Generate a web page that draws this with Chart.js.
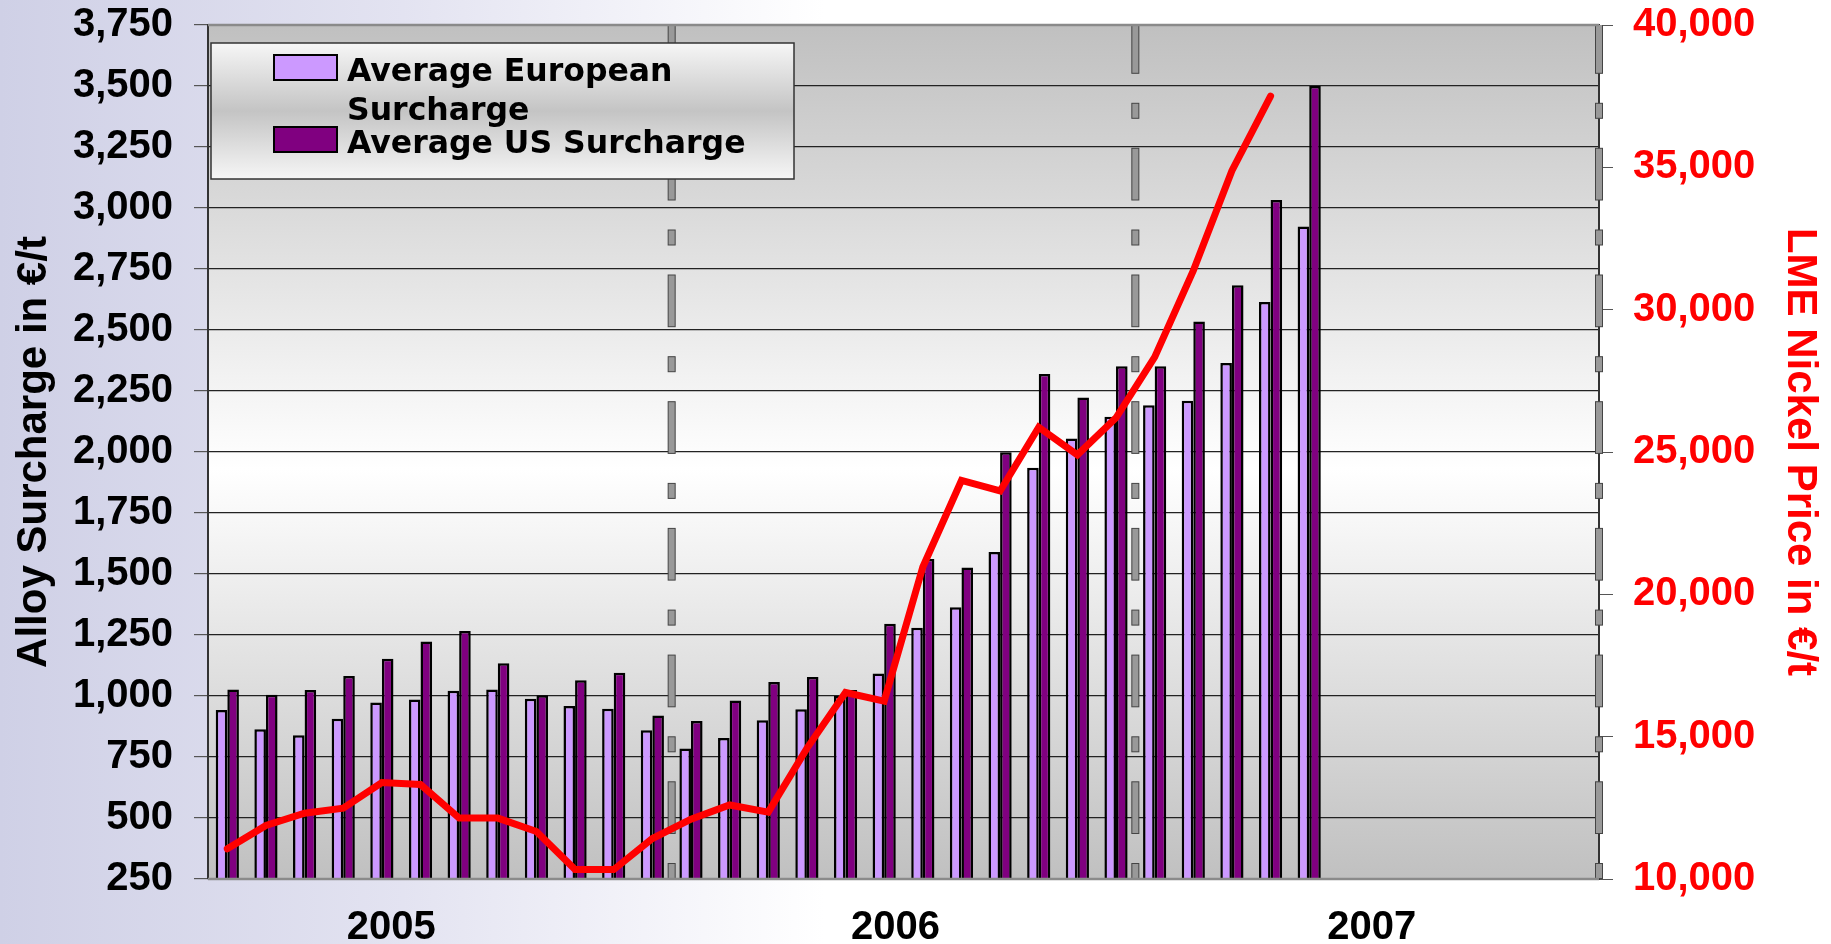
<!DOCTYPE html>
<html><head><meta charset="utf-8">
<script src="https://cdn.jsdelivr.net/npm/chart.js@4.4.1/dist/chart.umd.min.js"></script>
<style>
html,body{margin:0;padding:0;width:1831px;height:944px;overflow:hidden;
  background:linear-gradient(to right,#cfd0e6 0%,#e3e3f1 22%,#ffffff 45%);}
canvas{display:block;}
</style></head><body>
<canvas id="c" width="1831" height="944"></canvas>
<script>
// ---- data ----
const months = ['Jan 05','Feb 05','Mar 05','Apr 05','May 05','Jun 05','Jul 05','Aug 05','Sep 05','Oct 05','Nov 05','Dec 05',
                'Jan 06','Feb 06','Mar 06','Apr 06','May 06','Jun 06','Jul 06','Aug 06','Sep 06','Oct 06','Nov 06','Dec 06',
                'Jan 07','Feb 07','Mar 07','Apr 07','May 07','Jun 07','Jul 07','Aug 07','Sep 07','Oct 07','Nov 07','Dec 07'];
const yearLabels = ['2005','2006','2007'];
const yearLabelPos = [4.24, 17.29, 29.62];      // category index where each year label is centred
const yearBoundaries = [11.5, 23.5, 35.5];      // category positions of the year separators
const europeanSurcharge = [943, 864, 839, 907, 973, 986, 1022, 1027, 989, 959, 948, 860, 785, 828, 901, 946, 1000, 1092, 1280, 1364, 1590, 1935, 2055, 2144, 2192, 2210, 2365, 2615, 2924];
const usSurcharge = [1027, 1005, 1025, 1082, 1153, 1223, 1266, 1134, 1003, 1065, 1095, 920, 898, 982, 1057, 1078, 1025, 1296, 1561, 1527, 1999, 2320, 2223, 2351, 2351, 2535, 2683, 3033, 3500];
const nickelPrice = [11060, 11880, 12310, 12490, 13390, 13320, 12140, 12140, 11670, 10330, 10330, 11420, 12100, 12600, 12350, 14590, 16550, 16250, 20960, 24000, 23630, 25870, 24900, 26200, 28330, 31370, 34880, 37500];
const seriesNames = ['Average European Surcharge', 'Average US Surcharge', 'LME Nickel Price'];
const leftAxisTitle = 'Alloy Surcharge in €/t';
const rightAxisTitle = 'LME Nickel Price in €/t';

const fontTick = {family:'"Liberation Sans", Arial, sans-serif', weight:'bold', size:40};
const fontTitle = {family:'"Liberation Sans", Arial, sans-serif', weight:'bold', size:42};

const plotBg = {
  id:'plotBg',
  beforeDraw(chart){
    const {ctx, chartArea:a} = chart;
    const g = ctx.createLinearGradient(0, a.top, 0, a.bottom);
    g.addColorStop(0, '#c0c0c0'); g.addColorStop(0.52, '#ffffff'); g.addColorStop(1, '#c0c0c0');
    ctx.save(); ctx.fillStyle = g; ctx.fillRect(a.left, a.top, a.right - a.left, a.bottom - a.top); ctx.restore();
  }
};

const separators = {
  id:'separators',
  beforeDatasetsDraw(chart){
    const {ctx, chartArea:a} = chart; const sx = chart.scales.x;
    ctx.save(); ctx.beginPath(); ctx.rect(a.left, a.top, a.right - a.left + 6, a.bottom - a.top); ctx.clip();
    const pattern = [51.7, 30, 15, 30];
    yearBoundaries.forEach(m => {
      const x = sx.getPixelForValue(m);
      let y = a.top - 3.4, k = 0;
      while (y < a.bottom) {
        const len = pattern[k % 4];
        if (k % 2 === 0) {
          ctx.fillStyle = '#999999'; ctx.fillRect(x - 3.5, y, 7, len);
          ctx.strokeStyle = '#444'; ctx.lineWidth = 1; ctx.strokeRect(x - 3.5, y, 7, len);
        }
        y += len; k++;
      }
    });
    ctx.restore();
  }
};

const frameAndLegend = {
  id:'frameAndLegend',
  afterDraw(chart){
    const {ctx, chartArea:a} = chart;
    ctx.save();
    ctx.strokeStyle = '#8a8a8a'; ctx.lineWidth = 2.5;
    ctx.beginPath(); ctx.moveTo(a.left, a.top); ctx.lineTo(a.right, a.top); ctx.stroke();
    ctx.beginPath(); ctx.moveTo(a.left, a.bottom); ctx.lineTo(a.right, a.bottom); ctx.stroke();
    // year labels on the category axis
    const sx = chart.scales.x;
    ctx.font = 'bold 40px "Liberation Sans", Arial, sans-serif';
    ctx.fillStyle = '#000'; ctx.textAlign = 'center'; ctx.textBaseline = 'middle';
    yearLabels.forEach((t, i) => ctx.fillText(t, sx.getPixelForValue(yearLabelPos[i]), a.bottom + 49));
    // legend
    const b = {x:211, y:43, w:583, h:136, swatchX:274, swatchW:63, swatchH:25, textX:347, firstBaseline:81, itemGap:72, lineGap:39, maxTextW:440};
    const g = ctx.createLinearGradient(0, b.y, 0, b.y + b.h);
    g.addColorStop(0, '#f6f6f6'); g.addColorStop(0.5, '#c4c4c4'); g.addColorStop(1, '#f6f6f6');
    ctx.fillStyle = g; ctx.fillRect(b.x, b.y, b.w, b.h);
    ctx.strokeStyle = '#333'; ctx.lineWidth = 1.5; ctx.strokeRect(b.x, b.y, b.w, b.h);
    ctx.font = 'bold 31.5px "DejaVu Sans", sans-serif'; ctx.textBaseline = 'alphabetic'; ctx.textAlign = 'left';
    const bars = chart.data.datasets.filter(d => d.type === 'bar');
    bars.forEach((ds, i) => {
      const base = b.firstBaseline + i * b.itemGap;
      ctx.fillStyle = ds.backgroundColor; ctx.fillRect(b.swatchX, base - 26, b.swatchW, b.swatchH);
      ctx.strokeStyle = '#000'; ctx.lineWidth = 2; ctx.strokeRect(b.swatchX, base - 26, b.swatchW, b.swatchH);
      const words = ds.label.split(' '); const lines = []; let cur = '';
      words.forEach(w => { const t = cur ? cur + ' ' + w : w;
        if (ctx.measureText(t).width > b.maxTextW && cur) { lines.push(cur); cur = w; } else cur = t; });
      lines.push(cur);
      ctx.fillStyle = '#000';
      lines.forEach((l, j) => ctx.fillText(l, b.textX, base + j * b.lineGap));
    });
    ctx.restore();
  }
};

const fmt = v => Number(v).toLocaleString('en-US');
const noPad = s => { s.paddingTop = 0; s.paddingBottom = 0; };

new Chart(document.getElementById('c'), {
  type:'bar',
  data:{
    labels: months,
    datasets:[
      {type:'line', label:seriesNames[2], data:nickelPrice, yAxisID:'y2', xAxisID:'x', borderColor:'#ff0000', backgroundColor:'#ff0000',
       borderWidth:7, pointRadius:0, tension:0, fill:false, order:0, borderCapStyle:'round', borderJoinStyle:'miter'},
      {type:'bar', label:seriesNames[0], data:europeanSurcharge, yAxisID:'y', xAxisID:'x', backgroundColor:'#cc99ff', borderColor:'#000',
       borderWidth:2.5, borderSkipped:'bottom', categoryPercentage:0.6, barPercentage:1, order:2},
      {type:'bar', label:seriesNames[1], data:usSurcharge, yAxisID:'y', xAxisID:'x', backgroundColor:'#800080', borderColor:'#000',
       borderWidth:2.5, borderSkipped:'bottom', categoryPercentage:0.6, barPercentage:1, order:2}
    ]
  },
  options:{
    responsive:false, animation:false, devicePixelRatio:1,
    layout:{padding:{top:25, left:0, right:0, bottom:0}},
    plugins:{legend:{display:false}, tooltip:{enabled:false}},
    scales:{
      x:{type:'category', position:'bottom', offset:true,
        grid:{display:false, drawTicks:false}, border:{display:false},
        ticks:{display:false},
        afterFit: s => { s.height = 65; s.paddingLeft = 0; s.paddingRight = 0; }},
      y:{position:'left', min:250, max:3750,
        ticks:{stepSize:250, autoSkip:false, padding:21, color:'#000', font:fontTick, callback: fmt},
        grid:{color:'#222', lineWidth:1.2, tickLength:14, tickColor:'#555', drawTicks:true},
        border:{color:'#333', width:2},
        title:{display:true, text:leftAxisTitle, color:'#000', font:fontTitle, padding:{top:9, bottom:0}},
        afterFit: s => { s.width = 208; noPad(s); }},
      y2:{position:'right', min:10000, max:40000,
        ticks:{stepSize:5000, autoSkip:false, padding:20, color:'#ff0000', font:fontTick, callback: fmt},
        grid:{drawOnChartArea:false, tickLength:14, tickColor:'#555', drawTicks:true},
        border:{color:'#333', width:2},
        title:{display:true, text:rightAxisTitle, color:'#ff0000', font:fontTitle, padding:{top:6, bottom:0}},
        afterFit: s => { s.width = 232; noPad(s); }}
    }
  },
  plugins:[plotBg, separators, frameAndLegend]
});
</script>
</body></html>
